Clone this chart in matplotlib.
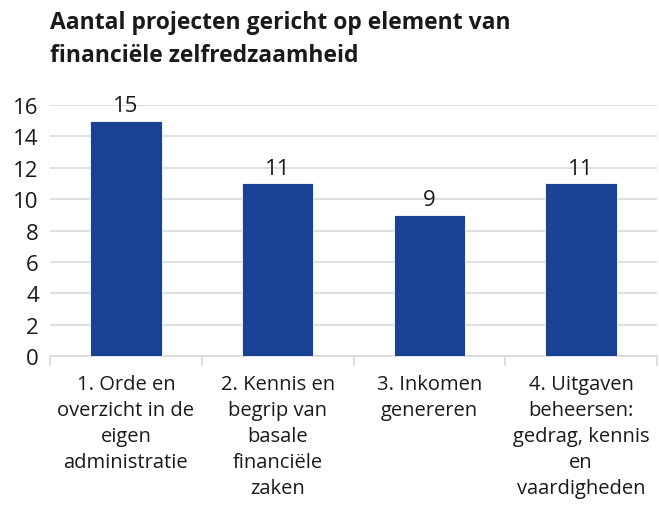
import numpy as np
import matplotlib.pyplot as plt

categories = ['1. Orde en\noverzicht in de\neigen\nadministratie',
              '2. Kennis en\nbegrip van\nbasale\nfinanciële\nzaken',
              '3. Inkomen\ngenereren',
              '4. Uitgaven\nbeheersen:\ngedrag, kennis\nen\nvaardigheden']
values = [15, 11, 9, 11]
yticks = [0, 2, 4, 6, 8, 10, 12, 14, 16]

plt.rcParams['font.family'] = ['Open Sans', 'DejaVu Sans']

fig = plt.figure(figsize=(6.59, 5.06), dpi=100)
ax = fig.add_axes([50 / 659, 1 - 357 / 506, 607 / 659, 251 / 506])

x = np.arange(len(values))
bars = ax.bar(x, values, width=0.47, color='#1a4294', edgecolor='white', linewidth=0.6, zorder=3)
for xi, v in zip(x, values):
    ax.text(xi, v + 0.3, str(v), ha='center', va='bottom', fontsize=16, color='#1a1a1a')

ax.set_xlim(-0.5, len(values) - 0.5)
ax.set_ylim(0, 16)
ax.set_yticks(yticks)
ax.tick_params(axis='y', length=0, labelsize=16, pad=8, labelcolor='#1a1a1a')
ax.grid(axis='y', color='#d9d9d9', linewidth=1.2, zorder=0)

ax.set_xticks(x)
ax.set_xticklabels(categories, fontsize=14.5, color='#1a1a1a', linespacing=1.4)
ax.tick_params(axis='x', length=0, pad=13)
ax.set_xticks(np.arange(-0.5, len(values)), minor=True)
ax.tick_params(axis='x', which='minor', length=7, color='#d9d9d9', width=1.2)

for s in ['top', 'right', 'left']:
    ax.spines[s].set_visible(False)
ax.spines['bottom'].set_color('#d9d9d9')
ax.spines['bottom'].set_linewidth(1.2)

fig.text(50 / 659, 1 - 11 / 506, 'Aantal projecten gericht op element van\nfinanciële zelfredzaamheid',
         ha='left', va='top', fontsize=16.5, fontweight='bold', color='#1a1a1a', linespacing=1.5)

fig.savefig('out.png', dpi=100)
